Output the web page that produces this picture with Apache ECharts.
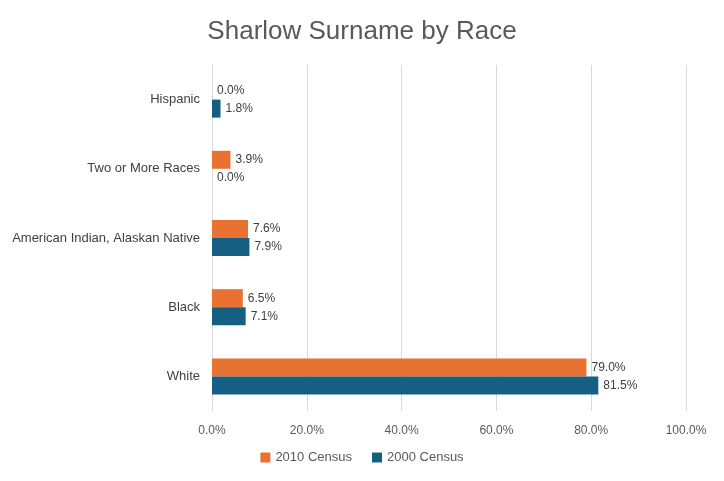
<!DOCTYPE html>
<html>
<head>
<meta charset="utf-8">
<script src="https://cdn.jsdelivr.net/npm/echarts@6/dist/echarts.min.js"></script>
<style>html,body{margin:0;padding:0;background:#fff}#chart{width:724px;height:481px}</style>
</head>
<body>
<div id="chart"></div>
<script>
var categories = ["White", "Black", "American Indian, Alaskan Native", "Two or More Races", "Hispanic"];
var census2010 = [79.0, 6.5, 7.6, 3.9, 0.0];
var census2000 = [81.5, 7.1, 7.9, 0.0, 1.8];

var myChart = echarts.init(document.getElementById("chart"));
var labelOpt = {
  show: true,
  position: "right",
  color: "#404040",
  fontSize: 12,
  fontFamily: "Liberation Sans",
  formatter: function (p) { return p.value.toFixed(1) + "%"; }
};
var option = {
  animation: false,
  title: {
    text: "Sharlow Surname by Race",
    left: "center",
    top: 14,
    textStyle: { color: "#595959", fontSize: 26, fontWeight: "normal", fontFamily: "Liberation Sans" }
  },
  legend: {
    data: ["2010 Census", "2000 Census"],
    bottom: 12,
    itemWidth: 10,
    itemHeight: 10,
    itemGap: 20,
    icon: "rect",
    textStyle: { color: "#595959", fontSize: 13, fontFamily: "Liberation Sans" }
  },
  grid: { left: 212, right: 38, top: 65, bottom: 70 },
  xAxis: {
    type: "value",
    min: 0,
    max: 100,
    interval: 20,
    axisLabel: { color: "#595959", fontSize: 12, fontFamily: "Liberation Sans", margin: 14,
      formatter: function (v) { return v.toFixed(1) + "%"; } },
    splitLine: { lineStyle: { color: "#d9d9d9" } },
    axisLine: { show: false },
    axisTick: { show: false }
  },
  yAxis: {
    type: "category",
    data: categories,
    axisLabel: { color: "#404040", fontSize: 13, fontFamily: "Liberation Sans", margin: 12 },
    axisLine: { show: true, lineStyle: { color: "#d9d9d9" } },
    axisTick: { show: false }
  },
  series: [
    { name: "2010 Census", type: "bar", data: census2010, barWidth: 18, barGap: "0%",
      itemStyle: { color: "#E97132" }, label: labelOpt },
    { name: "2000 Census", type: "bar", data: census2000, barWidth: 18, barGap: "0%",
      itemStyle: { color: "#156082" }, label: labelOpt }
  ]
};
myChart.setOption(option);
</script>
</body>
</html>
